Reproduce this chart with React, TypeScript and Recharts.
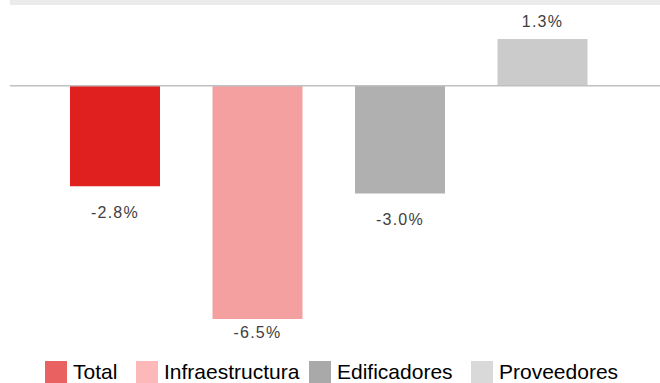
import React from "react";
import { Bar, BarChart, Cell, LabelList, ReferenceLine, XAxis, YAxis } from "recharts";

const CATEGORIES = ["Total", "Infraestructura", "Edificadores", "Proveedores"];
const VALUES = [-2.8, -6.5, -3.0, 1.3];
const BAR_COLORS = ["#e01f1f", "#f4a0a1", "#b0b0b0", "#cbcbcb"];
const LEGEND_COLORS = ["#e96161", "#fdb9b9", "#a9a9a9", "#d9d9d9"];
const LEGEND_LEFT = [45, 136, 309, 471];

const data = CATEGORIES.map((name, i) => ({ name, value: VALUES[i] }));

const FONT = "Arial, 'Liberation Sans', Helvetica, sans-serif";

function ValueLabel(props: any) {
  const { x, y, width, height, value } = props;
  const top = Math.min(y, y + height);
  const bottom = Math.max(y, y + height);
  const cx = x + width / 2;
  // labels under negative bars, kept inside the plot
  const ty = value < 0 ? Math.min(bottom + 32, 338) : top - 12;
  return (
    <text x={cx} y={ty} textAnchor="middle" fill="#404040" fontSize={16} letterSpacing={1.2} fontFamily={FONT}>
      {value.toFixed(1)}%
    </text>
  );
}

function LegendRow() {
  return (
    <div style={{ position: "absolute", left: 0, top: 361, width: 660, height: 22, fontFamily: FONT, fontSize: 21, color: "#000", whiteSpace: "nowrap" }}>
      {CATEGORIES.map((name, i) => (
        <span key={name} style={{ position: "absolute", left: LEGEND_LEFT[i], top: 0, display: "inline-flex", alignItems: "center", height: 22 }}>
          <span style={{ width: 22, height: 22, background: LEGEND_COLORS[i], marginRight: 6, display: "inline-block" }} />
          {name}
        </span>
      ))}
    </div>
  );
}

export default function App() {
  return (
    <div style={{ position: "absolute", left: 0, top: 0, width: 660, height: 383, background: "#fff", overflow: "hidden" }}>
      <div style={{ position: "absolute", left: 10, top: 0, width: 650, height: 5, background: "#ebebeb" }} />
      <BarChart width={660} height={383} data={data} margin={{ top: 14, right: 0, left: 10, bottom: 46 }}>
        <XAxis dataKey="name" hide padding={{ left: 34, right: 46 }} />
        <YAxis hide domain={[-7, 2]} />
        <ReferenceLine y={0} stroke="#c0c0c0" strokeWidth={1.5} ifOverflow="extendDomain" />
        <Bar dataKey="value" barSize={90} isAnimationActive={false}>
          {data.map((d, i) => (
            <Cell key={d.name} fill={BAR_COLORS[i]} />
          ))}
          <LabelList dataKey="value" content={<ValueLabel />} />
        </Bar>
      </BarChart>
      <LegendRow />
    </div>
  );
}
